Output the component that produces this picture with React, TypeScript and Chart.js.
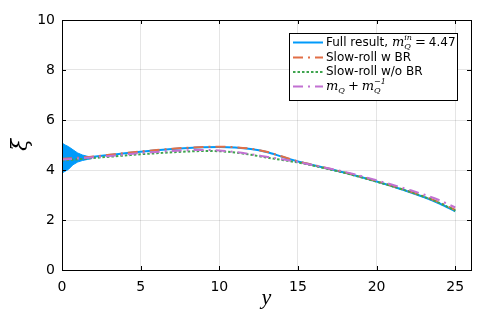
import React, { useEffect, useRef } from "react";
import { Chart, registerables } from "chart.js";

Chart.register(...registerables);

// ---- data ----
const yValues = [0, 1, 2, 3, 4, 5, 6, 7, 8, 9, 10, 11, 12, 13, 14, 15, 16, 17, 18, 19, 20, 21, 22, 23, 24, 25];
const fullResult = [4.45, 4.48, 4.53, 4.6, 4.67, 4.73, 4.79, 4.84, 4.88, 4.91, 4.92, 4.9, 4.84, 4.72, 4.53, 4.34, 4.19, 4.04, 3.89, 3.72, 3.54, 3.35, 3.14, 2.92, 2.66, 2.35];
const slowRollBR = [4.45, 4.49, 4.54, 4.61, 4.68, 4.74, 4.8, 4.85, 4.89, 4.92, 4.93, 4.91, 4.85, 4.73, 4.54, 4.35, 4.2, 4.05, 3.9, 3.73, 3.55, 3.36, 3.16, 2.95, 2.7, 2.4];
const slowRollNoBR = [4.38, 4.43, 4.48, 4.53, 4.58, 4.63, 4.67, 4.71, 4.74, 4.76, 4.75, 4.7, 4.61, 4.5, 4.4, 4.3, 4.17, 4.03, 3.88, 3.71, 3.53, 3.35, 3.15, 2.93, 2.68, 2.37];
const mQApprox = [4.42, 4.46, 4.51, 4.56, 4.62, 4.68, 4.72, 4.76, 4.79, 4.8, 4.78, 4.72, 4.63, 4.53, 4.43, 4.32, 4.19, 4.06, 3.92, 3.76, 3.59, 3.41, 3.22, 3.02, 2.79, 2.5];
// fast initial oscillation envelope of the full result
const envY = [0, 0.2, 0.4, 0.7, 1.0, 1.3, 1.6, 1.9];
const envUpper = [5.08, 5.0, 4.94, 4.81, 4.68, 4.6, 4.55, 4.52];
const envLower = [3.88, 3.95, 4.02, 4.21, 4.32, 4.38, 4.42, 4.46];
const xTickValues = [0, 5, 10, 15, 20, 25];
const yTickValues = [0, 2, 4, 6, 8, 10];
const xRange = [0, 26];
const yRange = [0, 10];

const BLUE = "#009AFA";
const ORANGE = "#E26F46";
const GREEN = "#3EA44E";
const PURPLE = "#C271D2";

const pts = (xs: number[], ys: number[]) => xs.map((x, i) => ({ x, y: ys[i] }));

const framePlugin = {
  id: "frame",
  afterDraw(chart: any) {
    const { ctx, chartArea: a, scales } = chart;
    ctx.save();
    ctx.strokeStyle = "#000";
    ctx.lineWidth = 1;
    ctx.strokeRect(Math.round(a.left) + 0.5, Math.round(a.top) + 0.5, Math.round(a.right - a.left), Math.round(a.bottom - a.top));
    // inward ticks on all four sides
    const tl = 4;
    ctx.beginPath();
    xTickValues.forEach((v) => {
      const px = Math.round(scales.x.getPixelForValue(v)) + 0.5;
      ctx.moveTo(px, a.bottom);
      ctx.lineTo(px, a.bottom - tl);
      ctx.moveTo(px, a.top);
      ctx.lineTo(px, a.top + tl);
    });
    yTickValues.forEach((v) => {
      const py = Math.round(scales.y.getPixelForValue(v)) + 0.5;
      ctx.moveTo(a.left, py);
      ctx.lineTo(a.left + tl, py);
      ctx.moveTo(a.right, py);
      ctx.lineTo(a.right - tl, py);
    });
    ctx.stroke();

    // axis titles
    ctx.fillStyle = "#000";
    ctx.font = 'italic 22px "Liberation Serif"';
    ctx.textAlign = "center";
    ctx.textBaseline = "alphabetic";
    ctx.fillText("y", (a.left + a.right) / 2, 304);
    ctx.save();
    ctx.translate(27, (a.top + a.bottom) / 2);
    ctx.rotate(-Math.PI / 2);
    ctx.font = 'italic 22px "DejaVu Serif"';
    ctx.fillText("ξ", 0, 0);
    ctx.restore();

    // legend
    const lx = 289.5, ly = 33.5, lw = 168, lh = 67;
    ctx.fillStyle = "#fff";
    ctx.fillRect(lx, ly, lw, lh);
    ctx.strokeStyle = "#000";
    ctx.lineWidth = 1;
    ctx.strokeRect(lx, ly, lw, lh);
    const rows = [42.5, 57.5, 72, 86.5];
    const items = [
      { color: BLUE, dash: [] as number[] },
      { color: ORANGE, dash: [10, 5, 2, 5] },
      { color: GREEN, dash: [2.5, 2] },
      { color: PURPLE, dash: [10, 5, 2, 5] },
    ];
    items.forEach((it, i) => {
      ctx.beginPath();
      ctx.setLineDash(it.dash);
      ctx.strokeStyle = it.color;
      ctx.lineWidth = 2;
      ctx.moveTo(293, rows[i]);
      ctx.lineTo(323, rows[i]);
      ctx.stroke();
    });
    ctx.setLineDash([]);
    ctx.fillStyle = "#000";
    ctx.textAlign = "left";
    ctx.textBaseline = "middle";
    const sans = '12px "DejaVu Sans"';
    const mathI = 'italic 13px "DejaVu Serif"';
    const mathS = 'italic 8px "DejaVu Serif"';
    const tx = 326;
    // row 1
    let x = tx;
    ctx.font = sans;
    ctx.fillText("Full result, ", x, rows[0]);
    x += ctx.measureText("Full result, ").width;
    ctx.font = mathI;
    ctx.fillText("m", x, rows[0]);
    x += ctx.measureText("m").width;
    ctx.font = mathS;
    ctx.fillText("in", x, rows[0] - 5);
    ctx.fillText("Q", x, rows[0] + 4);
    x += ctx.measureText("in").width + 3;
    ctx.font = '13px "DejaVu Serif"';
    ctx.fillText("=", x, rows[0]);
    x += ctx.measureText("=").width + 3;
    ctx.font = sans;
    ctx.fillText("4.47", x, rows[0]);
    // rows 2,3
    ctx.fillText("Slow-roll w BR", tx, rows[1]);
    ctx.fillText("Slow-roll w/o BR", tx, rows[2]);
    // row 4
    x = tx;
    ctx.font = mathI;
    ctx.fillText("m", x, rows[3]);
    x += ctx.measureText("m").width;
    ctx.font = mathS;
    ctx.fillText("Q", x, rows[3] + 4);
    x += ctx.measureText("Q").width + 3;
    ctx.font = '13px "DejaVu Serif"';
    ctx.fillText("+", x, rows[3]);
    x += ctx.measureText("+").width + 3;
    ctx.font = mathI;
    ctx.fillText("m", x, rows[3]);
    x += ctx.measureText("m").width;
    ctx.font = mathS;
    ctx.fillText("−1", x, rows[3] - 5);
    ctx.fillText("Q", x, rows[3] + 4);
    ctx.restore();
  },
};

export default function App() {
  const ref = useRef<HTMLCanvasElement | null>(null);
  useEffect(() => {
    if (!ref.current) return;
    const tickFont = { family: "DejaVu Sans", size: 14 };
    const chart = new Chart(ref.current, {
      type: "line",
      data: {
        datasets: [
          {
            label: "envUpper",
            data: pts(envY, envUpper),
            borderColor: BLUE,
            backgroundColor: BLUE,
            borderWidth: 1,
            pointRadius: 0,
            fill: "+1",
            order: 6,
          },
          {
            label: "envLower",
            data: pts(envY, envLower),
            borderColor: BLUE,
            backgroundColor: BLUE,
            borderWidth: 1,
            pointRadius: 0,
            fill: false,
            order: 5,
          },
          {
            label: "Full result",
            data: pts(yValues, fullResult),
            borderColor: BLUE,
            borderWidth: 2,
            pointRadius: 0,
            cubicInterpolationMode: "monotone",
            fill: false,
            order: 4,
          },
          {
            label: "Slow-roll w BR",
            data: pts(yValues, slowRollBR),
            borderColor: ORANGE,
            borderWidth: 2,
            borderDash: [10, 5, 2, 5],
            pointRadius: 0,
            cubicInterpolationMode: "monotone",
            fill: false,
            order: 3,
          },
          {
            label: "Slow-roll w/o BR",
            data: pts(yValues, slowRollNoBR),
            borderColor: GREEN,
            borderWidth: 2,
            borderDash: [2.5, 2],
            pointRadius: 0,
            cubicInterpolationMode: "monotone",
            fill: false,
            order: 2,
          },
          {
            label: "mQ + 1/mQ",
            data: pts(yValues, mQApprox),
            borderColor: PURPLE,
            borderWidth: 2,
            borderDash: [10, 5, 2, 5],
            pointRadius: 0,
            cubicInterpolationMode: "monotone",
            fill: false,
            order: 1,
          },
        ],
      },
      options: {
        responsive: false,
        animation: false,
        events: [],
        layout: { padding: { top: 20, right: 20, left: 0, bottom: 0 } },
        plugins: { legend: { display: false }, tooltip: { enabled: false }, title: { display: false } },
        scales: {
          x: {
            type: "linear",
            min: xRange[0],
            max: xRange[1],
            afterBuildTicks: (s: any) => {
              s.ticks = xTickValues.map((v) => ({ value: v }));
            },
            afterFit: (s: any) => {
              s.height = 57;
            },
            grid: { color: "rgba(0,0,0,0.1)", lineWidth: 1, drawTicks: false },
            border: { display: false },
            ticks: { font: tickFont, color: "#000", padding: 9, maxRotation: 0, autoSkip: false },
          },
          y: {
            type: "linear",
            min: yRange[0],
            max: yRange[1],
            afterBuildTicks: (s: any) => {
              s.ticks = yTickValues.map((v) => ({ value: v }));
            },
            afterFit: (s: any) => {
              s.width = 62;
            },
            grid: { color: "rgba(0,0,0,0.1)", lineWidth: 1, drawTicks: false },
            border: { display: false },
            ticks: { font: tickFont, color: "#000", padding: 7, autoSkip: false },
          },
        },
      },
      plugins: [framePlugin],
    } as any);
    return () => chart.destroy();
  }, []);
  return (
    <div style={{ position: "fixed", left: 0, top: 0, width: 491, height: 327, background: "#fff" }}>
      <canvas ref={ref} width={491} height={327} style={{ display: "block" }} />
    </div>
  );
}
